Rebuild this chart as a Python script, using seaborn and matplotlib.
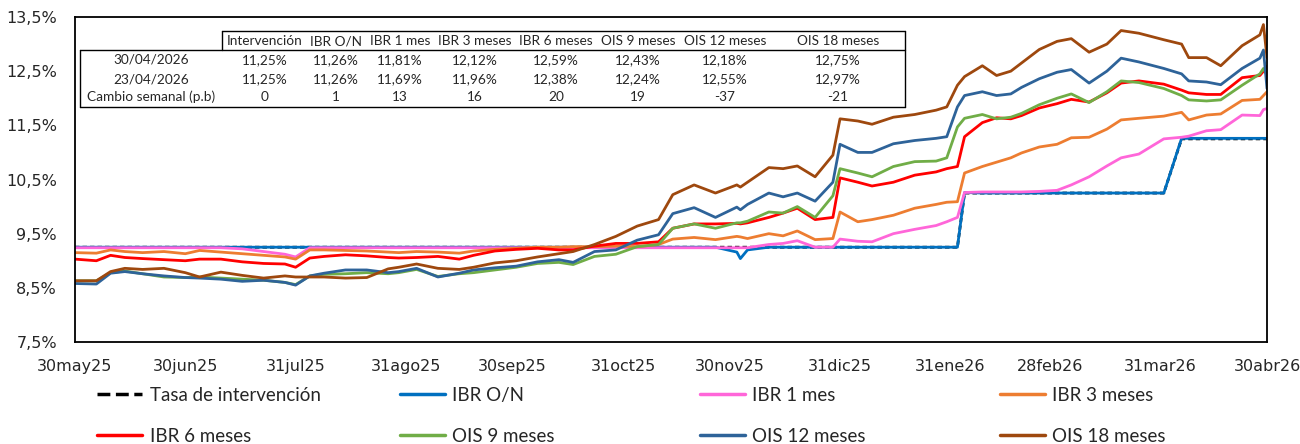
import matplotlib
matplotlib.use("Agg")
import matplotlib.pyplot as plt
from matplotlib.lines import Line2D
from matplotlib.patches import Rectangle
import seaborn as sns
import pandas as pd

# ---------------- data ----------------
fechas = ['2025-05-30', '2025-06-05', '2025-06-09', '2025-06-13', '2025-06-18', '2025-06-24',
          '2025-06-30', '2025-07-04', '2025-07-10', '2025-07-16', '2025-07-22', '2025-07-28',
          '2025-07-31', '2025-08-04', '2025-08-08', '2025-08-14', '2025-08-20', '2025-08-26',
          '2025-08-29', '2025-09-03', '2025-09-09', '2025-09-15', '2025-09-19', '2025-09-25',
          '2025-10-01', '2025-10-07', '2025-10-13', '2025-10-17', '2025-10-23', '2025-10-29',
          '2025-11-04', '2025-11-10', '2025-11-14', '2025-11-20', '2025-11-26', '2025-12-02',
          '2025-12-03', '2025-12-05', '2025-12-11', '2025-12-15', '2025-12-19', '2025-12-24',
          '2025-12-29', '2025-12-31', '2026-01-05', '2026-01-09', '2026-01-15', '2026-01-21',
          '2026-01-27', '2026-01-30', '2026-02-02', '2026-02-04', '2026-02-09', '2026-02-13',
          '2026-02-17', '2026-02-20', '2026-02-25', '2026-03-02', '2026-03-06', '2026-03-11',
          '2026-03-16', '2026-03-20', '2026-03-25', '2026-04-01', '2026-04-06', '2026-04-08',
          '2026-04-13', '2026-04-17', '2026-04-23', '2026-04-28', '2026-04-29', '2026-04-30']

tasa_intervencion = [9.25, 9.25, 9.25, 9.25, 9.25, 9.25, 9.25, 9.25, 9.25, 9.25, 9.25, 9.25,
                     9.25, 9.25, 9.25, 9.25, 9.25, 9.25, 9.25, 9.25, 9.25, 9.25, 9.25, 9.25,
                     9.25, 9.25, 9.25, 9.25, 9.25, 9.25, 9.25, 9.25, 9.25, 9.25, 9.25, 9.25,
                     9.25, 9.25, 9.25, 9.25, 9.25, 9.25, 9.25, 9.25, 9.25, 9.25, 9.25, 9.25,
                     9.25, 9.25, 9.25, 10.25, 10.25, 10.25, 10.25, 10.25, 10.25, 10.25, 10.25, 10.25,
                     10.25, 10.25, 10.25, 10.25, 11.25, 11.25, 11.25, 11.25, 11.25, 11.25, 11.25, 11.25]

ibr_on = [9.25, 9.25, 9.25, 9.25, 9.25, 9.25, 9.25, 9.25, 9.25, 9.25, 9.25, 9.25,
          9.25, 9.25, 9.25, 9.25, 9.25, 9.25, 9.25, 9.25, 9.25, 9.25, 9.25, 9.25,
          9.25, 9.25, 9.25, 9.25, 9.25, 9.25, 9.25, 9.25, 9.25, 9.25, 9.25, 9.16,
          9.04, 9.20, 9.25, 9.25, 9.25, 9.25, 9.25, 9.25, 9.25, 9.25, 9.25, 9.25,
          9.25, 9.25, 9.25, 10.26, 10.25, 10.25, 10.25, 10.25, 10.25, 10.25, 10.25, 10.25,
          10.25, 10.25, 10.25, 10.25, 11.26, 11.26, 11.26, 11.26, 11.26, 11.26, 11.26, 11.26]

ibr_1m = [9.24, 9.24, 9.24, 9.24, 9.24, 9.24, 9.24, 9.24, 9.24, 9.22, 9.17, 9.12,
          9.07, 9.24, 9.24, 9.24, 9.24, 9.24, 9.24, 9.24, 9.24, 9.24, 9.24, 9.24,
          9.24, 9.24, 9.24, 9.24, 9.24, 9.24, 9.24, 9.24, 9.24, 9.24, 9.24, 9.24,
          9.24, 9.24, 9.30, 9.32, 9.37, 9.25, 9.25, 9.40, 9.36, 9.35, 9.50, 9.58,
          9.65, 9.72, 9.80, 10.26, 10.27, 10.27, 10.27, 10.27, 10.28, 10.30, 10.40, 10.55,
          10.75, 10.90, 10.97, 11.25, 11.28, 11.30, 11.40, 11.42, 11.69, 11.68, 11.79, 11.81]

ibr_3m = [9.15, 9.14, 9.20, 9.17, 9.15, 9.17, 9.13, 9.19, 9.16, 9.13, 9.10, 9.07,
          9.03, 9.20, 9.20, 9.19, 9.18, 9.16, 9.15, 9.17, 9.16, 9.14, 9.18, 9.21,
          9.23, 9.25, 9.25, 9.26, 9.26, 9.27, 9.26, 9.30, 9.40, 9.43, 9.39, 9.45,
          9.44, 9.41, 9.50, 9.46, 9.55, 9.39, 9.41, 9.90, 9.72, 9.76, 9.84, 9.97,
          10.04, 10.08, 10.09, 10.62, 10.74, 10.82, 10.90, 10.99, 11.10, 11.15, 11.27, 11.28,
          11.43, 11.60, 11.63, 11.67, 11.74, 11.60, 11.69, 11.71, 11.96, 11.98, 12.05, 12.12]

ibr_6m = [9.03, 9.00, 9.10, 9.06, 9.04, 9.02, 9.00, 9.03, 9.03, 8.98, 8.95, 8.94,
          8.88, 9.05, 9.08, 9.11, 9.09, 9.06, 9.05, 9.06, 9.08, 9.03, 9.10, 9.18,
          9.21, 9.23, 9.20, 9.20, 9.27, 9.32, 9.32, 9.35, 9.60, 9.68, 9.68, 9.69,
          9.68, 9.70, 9.80, 9.88, 9.97, 9.76, 9.80, 10.53, 10.45, 10.38, 10.45, 10.58,
          10.64, 10.70, 10.74, 11.29, 11.55, 11.64, 11.62, 11.68, 11.82, 11.90, 11.98, 11.93,
          12.10, 12.28, 12.32, 12.26, 12.15, 12.10, 12.07, 12.07, 12.38, 12.42, 12.50, 12.59]

ois_9m = [8.63, 8.63, 8.78, 8.81, 8.76, 8.70, 8.69, 8.70, 8.68, 8.66, 8.64, 8.60,
          8.56, 8.72, 8.75, 8.76, 8.78, 8.76, 8.78, 8.84, 8.71, 8.76, 8.78, 8.83,
          8.88, 8.95, 8.97, 8.93, 9.08, 9.12, 9.26, 9.30, 9.60, 9.68, 9.60, 9.70,
          9.70, 9.73, 9.90, 9.88, 10.00, 9.80, 10.20, 10.70, 10.62, 10.55, 10.74, 10.83,
          10.84, 10.90, 11.47, 11.63, 11.70, 11.62, 11.65, 11.72, 11.88, 12.00, 12.08, 11.92,
          12.12, 12.32, 12.29, 12.18, 12.05, 11.97, 11.95, 11.97, 12.24, 12.45, 12.55, 12.43]

ois_12m = [8.58, 8.57, 8.77, 8.80, 8.76, 8.72, 8.69, 8.68, 8.66, 8.62, 8.64, 8.60,
           8.55, 8.72, 8.77, 8.83, 8.83, 8.78, 8.80, 8.86, 8.70, 8.77, 8.83, 8.87,
           8.90, 8.98, 9.02, 8.97, 9.17, 9.20, 9.38, 9.48, 9.87, 9.98, 9.80, 9.99,
           9.94, 10.04, 10.25, 10.18, 10.25, 10.10, 10.45, 11.15, 11.00, 11.00, 11.16, 11.22,
           11.26, 11.29, 11.84, 12.05, 12.12, 12.05, 12.08, 12.20, 12.36, 12.48, 12.53, 12.28,
           12.50, 12.74, 12.67, 12.55, 12.45, 12.32, 12.30, 12.25, 12.55, 12.74, 12.89, 12.18]

ois_18m = [8.63, 8.63, 8.80, 8.86, 8.84, 8.86, 8.78, 8.70, 8.79, 8.73, 8.68, 8.72,
           8.70, 8.70, 8.70, 8.68, 8.69, 8.85, 8.88, 8.94, 8.86, 8.84, 8.88, 8.96,
           9.00, 9.07, 9.13, 9.17, 9.30, 9.45, 9.64, 9.76, 10.22, 10.40, 10.25, 10.40,
           10.36, 10.45, 10.72, 10.70, 10.75, 10.55, 10.95, 11.62, 11.58, 11.52, 11.65, 11.70,
           11.78, 11.84, 12.24, 12.40, 12.60, 12.42, 12.50, 12.65, 12.90, 13.05, 13.10, 12.85,
           13.00, 13.25, 13.20, 13.08, 13.00, 12.75, 12.75, 12.60, 12.97, 13.17, 13.36, 12.75]

nombres_series = ['Tasa de intervención', 'IBR O/N', 'IBR 1 mes', 'IBR 3 meses',
                  'IBR 6 meses', 'OIS 9 meses', 'OIS 12 meses', 'OIS 18 meses']
colores = ['#000000', '#0070C0', '#FF66D9', '#ED7D31', '#FF0000', '#70AD47', '#2E6399', '#9E480E']

ticks_fechas = ['2025-05-30', '2025-06-30', '2025-07-31', '2025-08-31', '2025-09-30', '2025-10-31',
                '2025-11-30', '2025-12-31', '2026-01-31', '2026-02-28', '2026-03-31', '2026-04-30']
ticks_etiquetas = ['30may25', '30jun25', '31jul25', '31ago25', '30sep25', '31oct25',
                   '30nov25', '31dic25', '31ene26', '28feb26', '31mar26', '30abr26']
y_ticks = [7.5, 8.5, 9.5, 10.5, 11.5, 12.5, 13.5]

tabla_columnas = ['Intervención', 'IBR O/N', 'IBR 1 mes', 'IBR 3 meses', 'IBR 6 meses',
                  'OIS 9 meses', 'OIS 12 meses', 'OIS 18 meses']
tabla_filas = ['30/04/2026', '23/04/2026', 'Cambio semanal (p.b)']
valores_30abr = [11.25, 11.26, 11.81, 12.12, 12.59, 12.43, 12.18, 12.75]
valores_23abr = [11.25, 11.26, 11.69, 11.96, 12.38, 12.24, 12.55, 12.97]
cambio_pb = [0, 1, 13, 16, 20, 19, -37, -21]

# ---------------- long table ----------------
series = [tasa_intervencion, ibr_on, ibr_1m, ibr_3m, ibr_6m, ois_9m, ois_12m, ois_18m]
partes = []
for nombre, vals in zip(nombres_series, series):
    partes.append(pd.DataFrame({'fecha': pd.to_datetime(fechas), 'valor': vals, 'serie': nombre}))
df = pd.concat(partes, ignore_index=True)

# ---------------- plot ----------------
sns.set_style('white')
plt.rcParams['font.family'] = ['DejaVu Sans']

W, H = 1300, 444
fig = plt.figure(figsize=(W / 100, H / 100), dpi=100)
ax = fig.add_axes([75 / W, 1 - 342 / H, (1267 - 75) / W, (342 - 17) / H])

paleta = dict(zip(nombres_series, colores))
guiones = {n: ((1.6, 1.1) if i == 0 else '') for i, n in enumerate(nombres_series)}
sns.lineplot(data=df, x='fecha', y='valor', hue='serie', hue_order=nombres_series,
             palette=paleta, style='serie', style_order=nombres_series, dashes=guiones,
             linewidth=2.0, estimator=None, legend=False, ax=ax)

ax.set_xlim(pd.Timestamp('2025-05-30'), pd.Timestamp('2026-04-30'))
ax.set_ylim(7.5, 13.5)
ax.set_xticks(pd.to_datetime(ticks_fechas))
ax.set_xticklabels(ticks_etiquetas)
ax.set_yticks(y_ticks)
ax.set_yticklabels([f"{v:.1f}%".replace('.', ',') for v in y_ticks])
ax.tick_params(axis='both', length=0, labelsize=11.5, colors='#262626')
ax.tick_params(axis='x', pad=12)
ax.tick_params(axis='y', pad=13)
ax.set_xlabel('')
ax.set_ylabel('')
for s in ax.spines.values():
    s.set_visible(True)
    s.set_color('#000000')
    s.set_linewidth(1.3)
ax.grid(False)

# ---------------- legend (4 columns x 2 rows) ----------------
handles = [Line2D([0], [0], color=c, lw=2.5, linestyle=('--' if i == 0 else '-'))
           for i, c in enumerate(colores)]
col_x = [97, 400, 700, 1000]
orden = [(0, 4), (1, 5), (2, 6), (3, 7)]
for cx, (a, b) in zip(col_x, orden):
    fig.legend([handles[a], handles[b]], [nombres_series[a], nombres_series[b]],
               loc='upper left', bbox_to_anchor=(cx / W, 1 - 387 / H),
               frameon=False, borderpad=0, borderaxespad=0, handlelength=2.4,
               handletextpad=0.4, labelspacing=1.28,
               prop={'family': 'Lato', 'size': 13.5})

# ---------------- summary table ----------------
def fx(x):
    return x / W


def fy(y):
    return 1 - y / H


fig.add_artist(Rectangle((fx(80), fy(107)), fx(905) - fx(80), fy(50) - fy(107),
                         facecolor='white', edgecolor='none', transform=fig.transFigure))
fig.add_artist(Rectangle((fx(222), fy(50)), fx(905) - fx(222), fy(31) - fy(50),
                         facecolor='white', edgecolor='none', transform=fig.transFigure))
lw_t = 1.0
segmentos = [((222, 31), (905, 31)), ((222, 31), (222, 50)), ((80, 50), (905, 50)),
             ((80, 50), (80, 107)), ((905, 31), (905, 107)), ((80, 107), (905, 107))]
for (x0, y0), (x1, y1) in segmentos:
    fig.add_artist(Line2D([fx(x0), fx(x1)], [fy(y0), fy(y1)], color='black', lw=lw_t,
                          transform=fig.transFigure))

col_centros = [265, 336, 400, 475, 556, 638, 725, 838]
fila_y = [60, 79, 97]
tfont = {'family': 'Lato', 'size': 9.8}
for cx, t in zip(col_centros, tabla_columnas):
    fig.text(fx(cx), fy(41), t, ha='center', va='center', **tfont)
for ry, t in zip(fila_y, tabla_filas):
    fig.text(fx(151), fy(ry), t, ha='center', va='center', **tfont)
fmt = lambda v: f"{v:.2f}%".replace('.', ',')
for cx, v30, v23, c in zip(col_centros, valores_30abr, valores_23abr, cambio_pb):
    fig.text(fx(cx), fy(fila_y[0]), fmt(v30), ha='center', va='center', **tfont)
    fig.text(fx(cx), fy(fila_y[1]), fmt(v23), ha='center', va='center', **tfont)
    fig.text(fx(cx), fy(fila_y[2]), str(c), ha='center', va='center', **tfont)

fig.savefig('out.png', dpi=100)
